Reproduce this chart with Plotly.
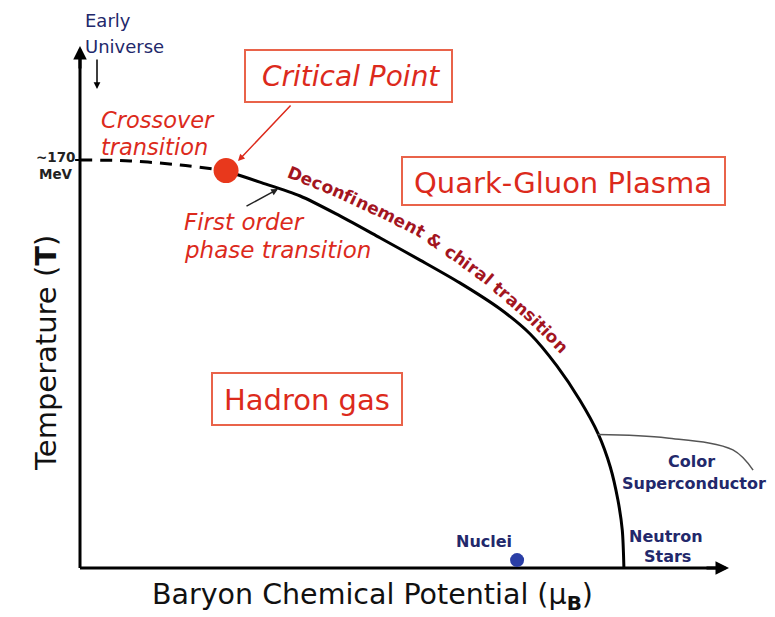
import numpy as np
import plotly.graph_objects as go

# ---------------- data (mu_B, T in MeV) ----------------
crossover_mu = [0, 92, 184, 268]
crossover_T = [170, 169.6, 167.9, 165.6]

critical_mu = [268]
critical_T = [165.6]

boundary_mu = [268, 330, 404, 477, 551, 624, 697, 771, 826, 875, 917, 951, 973, 987, 995, 998]
boundary_T = [165.4, 160.8, 155.0, 146.7, 137.5, 128.3, 118.8, 107.9, 97.5, 84.2, 70.0, 55.8, 42.1, 28.3, 15.8, 0]

csc_mu = [950, 1077, 1198, 1235]
csc_T = [55.6, 54.2, 49.2, 40.8]

nuclei_mu = [802]
nuclei_T = [3.3]

T_label = 170
axis_mu_max = 1178
axis_T_max = 215

# ---------------- geometry of the frame ----------------
OFF = 8                    # page margin of the browser
W, H = 775 - OFF, 617 - OFF
OX, OY = 80, 568           # pixel position of the origin (window coords)
KX, KY = 0.545, 2.4        # pixels per MeV
x_range = [(OFF - OX) / KX, (775 - OX) / KX]
y_range = [(OY - 617) / KY, (OY - OFF) / KY]

RED = "#dc2a1c"
BOXRED = "#e9634a"
MAROON = "#a3151f"
NAVY = "#22286b"
FONT = "DejaVu Sans"


def P(px, py):
    return (px - OFF) / W, 1 - (py - OFF) / H


fig = go.Figure()

# axes drawn as lines
fig.add_trace(go.Scatter(x=[0, 0], y=[0, axis_T_max], mode="lines",
                         line=dict(color="black", width=3), hoverinfo="skip"))
fig.add_trace(go.Scatter(x=[0, axis_mu_max], y=[0, 0], mode="lines",
                         line=dict(color="black", width=3), hoverinfo="skip"))
# tick at ~170 MeV
fig.add_trace(go.Scatter(x=[-9, 0], y=[T_label, T_label], mode="lines",
                         line=dict(color="black", width=2), hoverinfo="skip"))

# crossover (dashed)
fig.add_trace(go.Scatter(x=crossover_mu, y=crossover_T, mode="lines",
                         line=dict(color="black", width=3, dash="12px,8px", shape="spline"),
                         hoverinfo="skip"))
# first-order boundary
fig.add_trace(go.Scatter(x=boundary_mu, y=boundary_T, mode="lines",
                         line=dict(color="black", width=3, shape="spline", smoothing=0.8),
                         hoverinfo="skip"))
# color superconductor boundary
fig.add_trace(go.Scatter(x=csc_mu, y=csc_T, mode="lines",
                         line=dict(color="#555555", width=1.5, shape="spline"),
                         hoverinfo="skip"))
# critical point
fig.add_trace(go.Scatter(x=critical_mu, y=critical_T, mode="markers",
                         marker=dict(color="#e8381c", size=25), hoverinfo="skip",
                         cliponaxis=False))
# nuclei
fig.add_trace(go.Scatter(x=nuclei_mu, y=nuclei_T, mode="markers",
                         marker=dict(color="#2a3ea6", size=14), hoverinfo="skip",
                         cliponaxis=False))

annotations = []


def label(text, px, py, size, color, xanchor="center", angle=0):
    x, y = P(px, py)
    annotations.append(dict(x=x, y=y, xref="paper", yref="paper", text=text,
                            showarrow=False, xanchor=xanchor, yanchor="middle",
                            textangle=angle,
                            font=dict(family=FONT, size=size, color=color)))


def arrow(tip, tail, color, width, head=2, size=1.0):
    x, y = P(*tip)
    annotations.append(dict(x=x, y=y, xref="paper", yref="paper", text="",
                            showarrow=True, ax=tail[0] - tip[0], ay=tail[1] - tip[1],
                            arrowcolor=color, arrowwidth=width, arrowhead=head,
                            arrowsize=size, standoff=0, startstandoff=0))


# axis arrowheads
arrow((80, 46), (80, 70), "black", 3, head=2, size=0.9)
arrow((729, 568), (705, 568), "black", 3, head=2, size=0.9)

# axis titles
label("Temperature (<b>T</b>)", 46, 353, 29, "#111111", angle=-90)
label("Baryon Chemical Potential (μ<sub><b>B</b></sub>)", 372, 596, 28.5, "#111111")

# tick label
label("<b>~170</b>", 56, 157, 13.5, "#222222")
label("<b>MeV</b>", 56, 174, 13.5, "#222222")

# early universe
label("Early", 83, 21, 18, NAVY, xanchor="left")
label("Universe", 83, 46, 18, NAVY, xanchor="left")
arrow((97, 89), (97, 58), "black", 1.5, head=2, size=0.9)

# boxes
shapes = []
for (x0, y0, x1, y1) in [(245, 50, 452, 102), (402, 157, 725, 205), (212, 373, 402, 425)]:
    a0, b0 = P(x0, y0)
    a1, b1 = P(x1, y1)
    shapes.append(dict(type="rect", xref="paper", yref="paper", x0=a0, y0=b1, x1=a1, y1=b0,
                       line=dict(color=BOXRED, width=2), fillcolor="rgba(0,0,0,0)"))

label("<i>Critical Point</i>", 351, 77, 28, RED)
label("Quark-Gluon Plasma", 563, 183, 29, RED)
label("Hadron gas", 307, 400, 29, RED)

# crossover / first order labels
label("<i>Crossover</i>", 99, 120, 22.5, RED, xanchor="left")
label("<i>transition</i>", 99, 147, 22.5, RED, xanchor="left")
arrow((238, 161), (292, 104), RED, 1.5, head=2, size=0.9)

label("<i>First order</i>", 182, 222, 23, RED, xanchor="left")
label("<i>phase transition</i>", 182, 250, 23, RED, xanchor="left")
arrow((278, 189), (245, 207), "#222222", 1.5, head=2, size=0.9)

# other labels
label("<b>Nuclei</b>", 484, 541, 16, NAVY)
label("<b>Neutron</b>", 666, 536, 16, NAVY)
label("<b>Stars</b>", 667, 556, 16, NAVY)
label("<b>Color</b>", 691, 461, 16, NAVY)
label("<b>Superconductor</b>", 694, 483, 16, NAVY)

# curved text along the boundary
curve_text = "Deconfinement & chiral transition"
cw = {"D": .830, "e": .678, "c": .593, "o": .687, "n": .712, "f": .435, "i": .343,
      "m": 1.042, "t": .478, " ": .348, "&": .872, "h": .712, "r": .493, "a": .675,
      "l": .343, "s": .595}
text_path = np.array([(295, 174), (340, 192), (385, 213), (418, 230), (437, 243),
                      (450, 251), (490, 280), (498, 288), (528, 313), (561, 346)], float)
seg = np.hypot(*np.diff(text_path, axis=0).T)
cum = np.concatenate([[0], np.cumsum(seg)])
L = cum[-1]


def point_at(s):
    s = min(max(s, 0), L)
    return np.interp(s, cum, text_path[:, 0]), np.interp(s, cum, text_path[:, 1])


fs = 17
widths = [cw[c] * fs for c in curve_text]
centers = np.cumsum(widths) - np.array(widths) / 2
centers = centers - centers[0]
scale = L / centers[-1]
for ch, c in zip(curve_text, centers):
    if ch == " ":
        continue
    s = c * scale
    px, py = point_at(s)
    x0, y0 = point_at(s - 14)
    x1, y1 = point_at(s + 14)
    ang = np.degrees(np.arctan2(y1 - y0, x1 - x0))
    label("<b>%s</b>" % ch, px, py, fs, MAROON, angle=float(ang))

fig.update_layout(
    width=W, height=H,
    margin=dict(l=0, r=0, t=0, b=0),
    paper_bgcolor="white", plot_bgcolor="white",
    showlegend=False,
    xaxis=dict(range=x_range, visible=False, fixedrange=True),
    yaxis=dict(range=y_range, visible=False, fixedrange=True),
    annotations=annotations,
    shapes=shapes,
)

fig.write_html("out.html")
